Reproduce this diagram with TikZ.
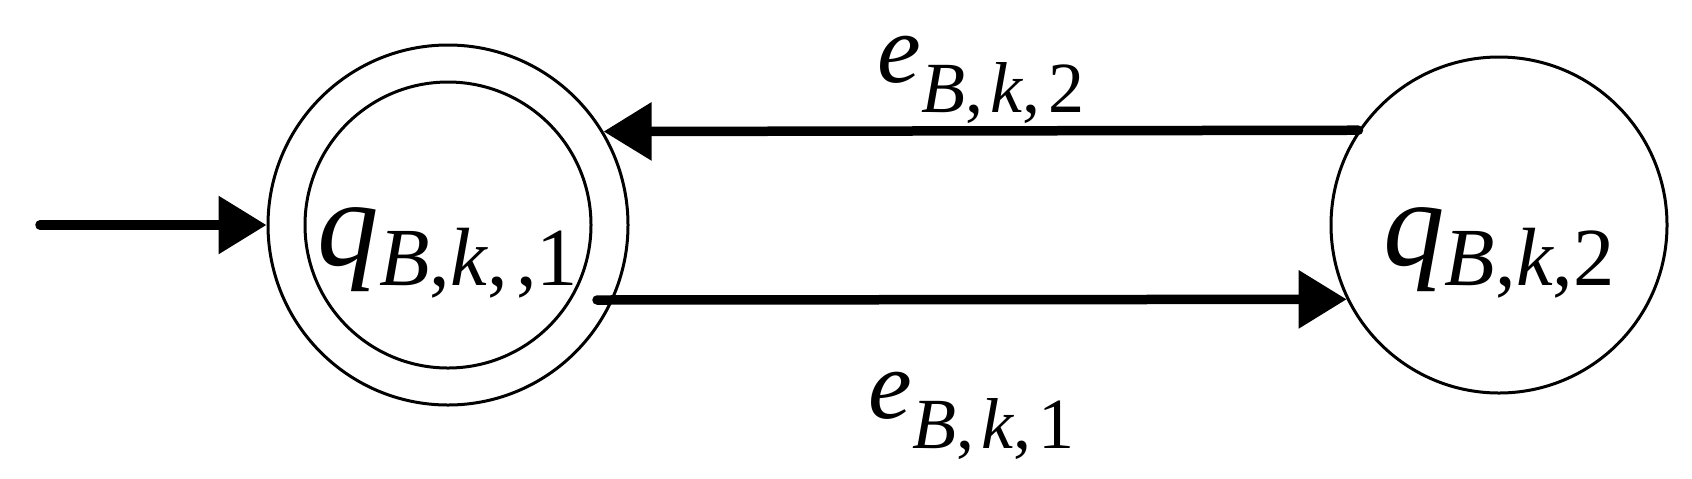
\documentclass[tikz,border=0pt]{standalone}
\usepackage{fontspec}
\setmainfont{Liberation Serif}
\usetikzlibrary{arrows.meta}

\newcommand{\qlbl}[1]{{\fontsize{35}{42}\selectfont\textit{q}\raisebox{-0.2cm}{\fontsize{23.5}{28}\selectfont #1}}}
\newcommand{\elbl}[1]{{\fontsize{28}{34}\selectfont\textit{e}\raisebox{-0.3cm}{\fontsize{20.5}{25}\selectfont #1}}}

\begin{document}
\begin{tikzpicture}
  [qstate/.style={circle, draw=black, line width=0.03cm, inner sep=0pt, text height=0.95cm, text depth=0.15cm},
   trans/.style={-{Triangle[length=0.48cm,width=0.56cm]}, line width=0.095cm, line cap=round},
   elabel/.style={midway, anchor=base, inner sep=0pt, text height=0.5cm, text depth=0.2cm}]

  \useasboundingbox (0,0) rectangle (16.92,4.78);

  %%%%%%%%%% states %%%%%%%%%%
  \node[qstate, minimum size=3.6cm]  (q1) at (4.48,2.53)  {\qlbl{\textit{B},\textit{k},\kern0.1em,1}};
  \node[qstate, minimum size=3.36cm] (q2) at (14.99,2.53) {\qlbl{\textit{B},\textit{k},2}};
  \draw[line width=0.03cm] (q1.center) circle (1.43cm);

  \coordinate (start) at (0.40,2.53);

  %%%%%%%%%% transitions %%%%%%%%%%
  \draw[trans] (start) -- (q1.west);
  \draw[trans] (q2.146.4) -- (q1.31.1) node[elabel, yshift=0.48cm] {\elbl{\textit{B},\kern0.1em\textit{k},\kern0.1em2}};
  \draw[trans] ([shift={(1.49,-0.75)}]q1.center) -- (q2.206.5) node[elabel, yshift=-1.19cm] {\elbl{\textit{B},\kern0.1em\textit{k},\kern0.1em1}};
\end{tikzpicture}
\end{document}
